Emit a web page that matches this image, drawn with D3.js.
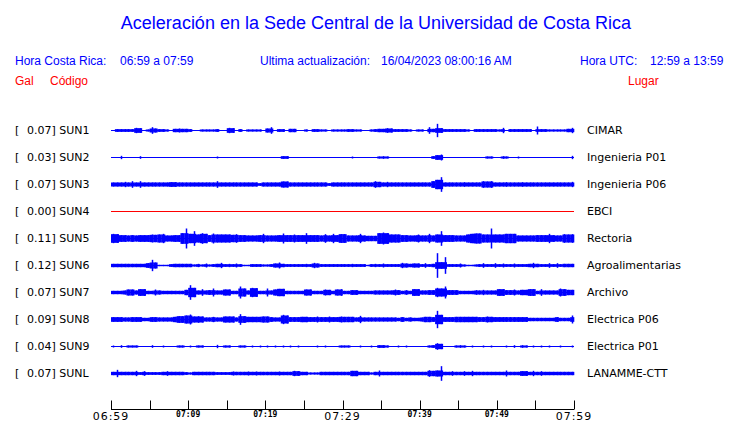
<!DOCTYPE html>
<html>
<head>
<meta charset="utf-8">
<script src="https://cdn.jsdelivr.net/npm/d3@7"></script>
<style>
  body { margin: 0; background: #fff; }
  svg { display: block; }
</style>
</head>
<body>
<svg id="chart" width="740" height="423"></svg>
<script>
// station info, top to bottom
var codes = ["SUN1", "SUN2", "SUN3", "SUN4", "SUN5", "SUN6", "SUN7", "SUN8", "SUN9", "SUNL"];
var places = ["CIMAR", "Ingenieria P01", "Ingenieria P06", "EBCI", "Rectoria", "Agroalimentarias", "Archivo", "Electrica P06", "Electrica P01", "LANAMME-CTT"];
var peakGal = ["0.07", "0.03", "0.07", "0.00", "0.11", "0.12", "0.07", "0.09", "0.04", "0.07"];

// envelope amplitude (counts), one value every 30 s from 06:59 to 07:59
var sun1 = [0,4,4,4,4,4,8,7,0,3, 10,6,4,4,3,0,5,6,5,5, 4,0,0,3,3,3,3,4,0,0, 8,7,0,4,0,3,3,3,3,0,
            6,10,0,4,4,0,5,5,0,0, 3,0,4,4,3,3,0,3,3,3, 3,4,4,3,3,0,0,3,4,5, 5,7,6,4,4,4,4,3,0,3,
            3,0,10,5,20,7,4,4,4,4, 4,4,3,0,4,4,4,4,4,4, 3,8,0,4,4,4,4,4,4,0, 12,4,4,3,3,3,3,3,5,8];
var sun2 = [0,0,5,0,0,0,0,4,0,0, 0,0,0,0,0,0,0,0,0,0, 0,0,0,0,0,0,0,3,0,0, 0,0,0,0,0,0,0,0,0,0,
            0,0,0,0,4,4,0,0,0,0, 0,0,0,0,0,0,0,0,0,0, 0,0,3,0,0,0,0,0,0,3, 4,3,0,0,0,0,0,0,0,0,
            0,0,0,4,7,9,0,0,0,0, 0,0,0,0,0,0,0,3,3,0, 0,4,3,0,0,3,0,0,0,0, 0,0,0,0,0,0,0,0,0,5];
var sun3 = [6,6,6,8,6,10,6,10,6,6, 6,6,6,6,6,7,7,6,6,6, 6,6,6,6,6,6,6,10,6,6, 6,6,6,6,6,6,6,6,4,6,
            6,6,6,6,9,9,6,6,6,6, 6,6,6,6,6,6,4,6,6,6, 6,6,6,6,6,6,6,6,10,8, 6,8,6,6,6,6,6,6,6,6,
            6,6,6,10,14,22,6,6,6,6, 6,7,6,6,6,6,10,9,10,6, 6,6,7,6,6,6,7,6,6,6, 6,6,6,6,6,6,6,6,6,8];
var sun4 = [0,0,0,0,0,0,0,0,0,0, 0,0,0,0,0,0,0,0,0,0, 0,0,0,0,0,0,0,0,0,0, 0,0,0,0,0,0,0,0,0,0,
            0,0,0,0,0,0,0,0,0,0, 0,0,0,0,0,0,0,0,0,0, 0,0,0,0,0,0,0,0,0,0, 0,0,0,0,0,0,0,0,0,0,
            0,0,0,0,0,0,0,0,0,0, 0,0,0,0,0,0,0,0,0,0, 0,0,0,0,0,0,0,0,0,0, 0,0,0,0,0,0,0,0,0,0];
var sun5 = [14,13,10,10,9,10,9,10,10,10, 12,11,12,14,9,9,10,10,16,30, 14,22,12,16,14,10,15,12,12,12,
            12,11,13,10,10,9,9,9,10,14, 9,9,9,10,15,10,10,12,10,10, 16,10,10,10,9,13,9,14,10,13,
            13,9,9,9,14,9,8,8,8,16, 18,16,12,12,12,10,10,9,9,12, 9,9,14,9,12,22,10,10,10,9,
            9,9,12,14,15,15,12,12,30,12, 12,12,14,14,14,9,9,9,9,9, 10,10,10,14,10,9,9,13,12,13];
var sun6 = [5,5,5,5,5,5,5,5,5,7, 17,9,2,2,2,4,5,5,5,5, 5,3,5,3,6,3,4,5,8,4, 5,4,6,4,2,2,4,4,4,3,
            3,4,6,9,5,4,4,4,4,4, 5,4,8,6,4,4,4,4,4,4, 4,4,5,4,4,4,2,4,5,4, 6,4,4,4,4,8,6,5,6,6,
            4,7,4,5,37,10,25,4,4,4, 6,3,2,2,3,4,7,4,4,7, 4,6,4,4,6,4,4,4,5,8, 5,4,4,7,4,7,4,5,5,5];
var sun7 = [5,5,5,6,9,9,6,10,10,5, 5,9,6,5,5,5,5,5,5,8, 22,14,6,10,6,7,12,6,6,9, 9,5,5,18,12,6,14,13,5,5,
            12,6,9,11,11,5,5,5,5,5, 9,9,5,5,5,9,8,5,9,10, 5,5,7,7,5,5,5,5,6,6, 6,6,6,9,7,5,7,5,10,10,
            6,6,7,7,14,12,18,7,7,7, 5,5,5,5,7,6,8,6,6,6, 10,10,7,7,9,6,8,8,10,10, 5,10,6,6,6,6,12,10,8,8];
var sun8 = [7,7,7,6,6,7,7,7,5,5, 7,7,6,6,6,6,8,10,10,12, 15,9,10,9,6,6,8,6,6,9, 9,9,6,16,10,8,8,8,8,9,
            9,7,6,6,14,12,7,7,7,8, 8,7,7,9,7,7,9,7,7,9, 8,8,8,6,11,6,6,6,6,6, 6,6,6,6,5,7,5,6,5,5,
            6,8,8,7,26,14,7,7,7,8, 8,8,8,8,8,7,7,9,8,7, 7,7,7,7,7,7,7,7,5,5, 5,5,5,5,5,7,5,5,5,12];
var sun9 = [3,0,4,0,3,3,3,0,0,0, 4,0,0,3,0,0,0,3,3,0, 3,0,3,3,0,0,0,5,0,3, 3,0,0,3,3,0,3,0,3,0,
            3,0,3,0,3,0,3,0,3,0, 0,0,0,3,0,3,0,0,0,3, 3,3,0,0,3,0,0,3,0,4, 4,3,0,0,3,0,3,0,0,0,
            0,0,3,4,10,8,0,0,0,3, 4,3,0,3,0,0,3,0,3,0, 0,0,3,0,4,0,4,3,0,3, 0,3,0,3,0,0,3,0,0,3];
var sunl = [5,11,5,5,5,5,8,4,7,4, 4,4,4,5,7,5,5,5,5,4, 3,5,5,5,5,5,5,4,4,4, 4,6,5,5,5,6,5,6,5,5,
            5,5,5,6,5,5,5,8,7,5, 5,3,3,3,5,5,5,5,5,5, 5,5,8,8,5,5,5,3,5,9, 5,5,5,5,5,5,5,5,5,5,
            5,5,10,8,9,22,5,5,7,5, 5,7,5,8,5,5,5,5,5,5, 5,5,9,5,5,5,7,7,5,8, 5,7,5,5,5,5,5,5,5,5];
var traces = [sun1, sun2, sun3, sun4, sun5, sun6, sun7, sun8, sun9, sunl];

// time axis: tick every 5 min, label every 10 min
var tickMinutes = [0, 5, 10, 15, 20, 25, 30, 35, 40, 45, 50, 55, 60];
var tickLabels = ["06:59", "07:09", "07:19", "07:29", "07:39", "07:49", "07:59"];
var bigLabels = ["06:59", "07:29", "07:59"];

var t0 = new Date(2023, 3, 16, 6, 59);
var t1 = new Date(2023, 3, 16, 7, 59);
var binSec = 30;

var svg = d3.select("#chart");
var blue = "#0000ff", red = "#ff0000";

var x = d3.scaleTime().domain([t0, t1]).range([111, 574]);
var y = d3.scaleBand().domain(codes).range([117, 387]);
var amp = d3.scaleLinear().domain([0, 3]).range([0, 1]);

function binTime(i) {
	return new Date(t0.getTime() + i * binSec * 1000);
}

// header
svg.append("text")
	.attr("x", 376).attr("y", 29)
	.attr("text-anchor", "middle")
	.style("font-family", "'Liberation Sans', Arial, sans-serif")
	.style("font-size", "18px")
	.style("fill", blue)
	.text("Aceleración en la Sede Central de la Universidad de Costa Rica");

var header = [
	{ t: "Hora Costa Rica:", x: 15 },
	{ t: "06:59 a 07:59", x: 120 },
	{ t: "Ultima actualización:", x: 260 },
	{ t: "16/04/2023 08:00:16 AM", x: 381 },
	{ t: "Hora UTC:", x: 580 },
	{ t: "12:59 a 13:59", x: 650 }
];
svg.selectAll("text.hdr")
	.data(header)
	.enter()
	.append("text")
	.attr("class", "hdr")
	.attr("x", function(d) { return d.x; })
	.attr("y", 65)
	.style("font-family", "'Liberation Sans', Arial, sans-serif")
	.style("font-size", "12px")
	.style("fill", blue)
	.text(function(d) { return d.t; });

var sub = [{ t: "Gal", x: 15 }, { t: "Código", x: 50 }, { t: "Lugar", x: 628 }];
svg.selectAll("text.sub")
	.data(sub)
	.enter()
	.append("text")
	.attr("class", "sub")
	.attr("x", function(d) { return d.x; })
	.attr("y", 85)
	.style("font-family", "'Liberation Sans', Arial, sans-serif")
	.style("font-size", "12px")
	.style("fill", red)
	.text(function(d) { return d.t; });

// rows
var rows = svg.selectAll("g.row")
	.data(codes)
	.enter()
	.append("g")
	.attr("class", "row")
	.attr("transform", function(d) {
		return "translate(0," + (y(d) + y.bandwidth() / 2) + ")";
	});

var lblFont = "'DejaVu Sans', sans-serif";
rows.append("text")
	.attr("x", 15).attr("y", 3.5)
	.style("font-family", lblFont)
	.style("font-size", "11px")
	.text("[");

rows.append("text")
	.attr("x", 27).attr("y", 3.5)
	.style("font-family", lblFont)
	.style("font-size", "11px")
	.text(function(d, i) { return peakGal[i] + "] " + d; });

rows.append("text")
	.attr("x", 587).attr("y", 3.5)
	.style("font-family", lblFont)
	.style("font-size", "11px")
	.text(function(d, i) { return places[i]; });

rows.each(function(code, r) {
	var g = d3.select(this);
	var vals = traces[r];
	var col = d3.max(vals) === 0 ? red : blue;
	var base = d3.median(vals);

	g.append("line")
		.attr("x1", x(t0)).attr("x2", x(t1))
		.attr("y1", 0).attr("y2", 0)
		.attr("stroke", col)
		.attr("stroke-width", 1);

	// body of the trace: bursts keep the level shared with a neighbour
	g.selectAll("rect.env")
		.data(vals)
		.enter()
		.append("rect")
		.attr("class", "env")
		.attr("x", function(d, i) { return x(binTime(i)); })
		.attr("width", function(d, i) { return x(binTime(i + 1)) - x(binTime(i)) + 0.3; })
		.attr("y", function(d, i) {
			var nb = Math.max(vals[i - 1] || 0, vals[i + 1] || 0);
			return -amp(Math.min(d, Math.max(base, nb)));
		})
		.attr("height", function(d, i) {
			var nb = Math.max(vals[i - 1] || 0, vals[i + 1] || 0);
			return 2 * amp(Math.min(d, Math.max(base, nb)));
		})
		.attr("fill", col);

	// peak of each bin as a thin spike
	g.selectAll("line.pk")
		.data(vals)
		.enter()
		.append("line")
		.attr("class", "pk")
		.attr("x1", function(d, i) { return Math.round(x(binTime(i + 0.5))) + 0.5; })
		.attr("x2", function(d, i) { return Math.round(x(binTime(i + 0.5))) + 0.5; })
		.attr("y1", function(d) { return -amp(d); })
		.attr("y2", function(d) { return amp(d); })
		.attr("stroke", col)
		.attr("stroke-width", 1.5);
});

// time axis
var axisY = 409.5;
svg.append("line")
	.attr("x1", x(t0)).attr("x2", x(t1))
	.attr("y1", axisY).attr("y2", axisY)
	.attr("stroke", "#000");

svg.selectAll("line.tick")
	.data(tickMinutes)
	.enter()
	.append("line")
	.attr("class", "tick")
	.attr("x1", function(d) { return Math.round(x(d3.timeMinute.offset(t0, d))) + 0.5; })
	.attr("x2", function(d) { return Math.round(x(d3.timeMinute.offset(t0, d))) + 0.5; })
	.attr("y1", axisY).attr("y2", axisY - 9)
	.attr("stroke", "#000");

function isBig(d) { return bigLabels.indexOf(d) >= 0; }
svg.selectAll("text.tl")
	.data(tickLabels)
	.enter()
	.append("text")
	.attr("class", "tl")
	.attr("x", function(d, i) { return x(d3.timeMinute.offset(t0, i * 10)); })
	.attr("y", function(d) { return isBig(d) ? 420 : 417; })
	.attr("text-anchor", "middle")
	.style("font-family", function(d) { return isBig(d) ? "'DejaVu Sans', sans-serif" : "'DejaVu Sans Mono', monospace"; })
	.style("font-size", function(d) { return isBig(d) ? "11px" : "8px"; })
	.style("font-weight", function(d) { return isBig(d) ? "normal" : "bold"; })
	.style("letter-spacing", function(d) { return isBig(d) ? "1px" : "0px"; })
	.text(function(d) { return d; });
</script>
</body>
</html>
